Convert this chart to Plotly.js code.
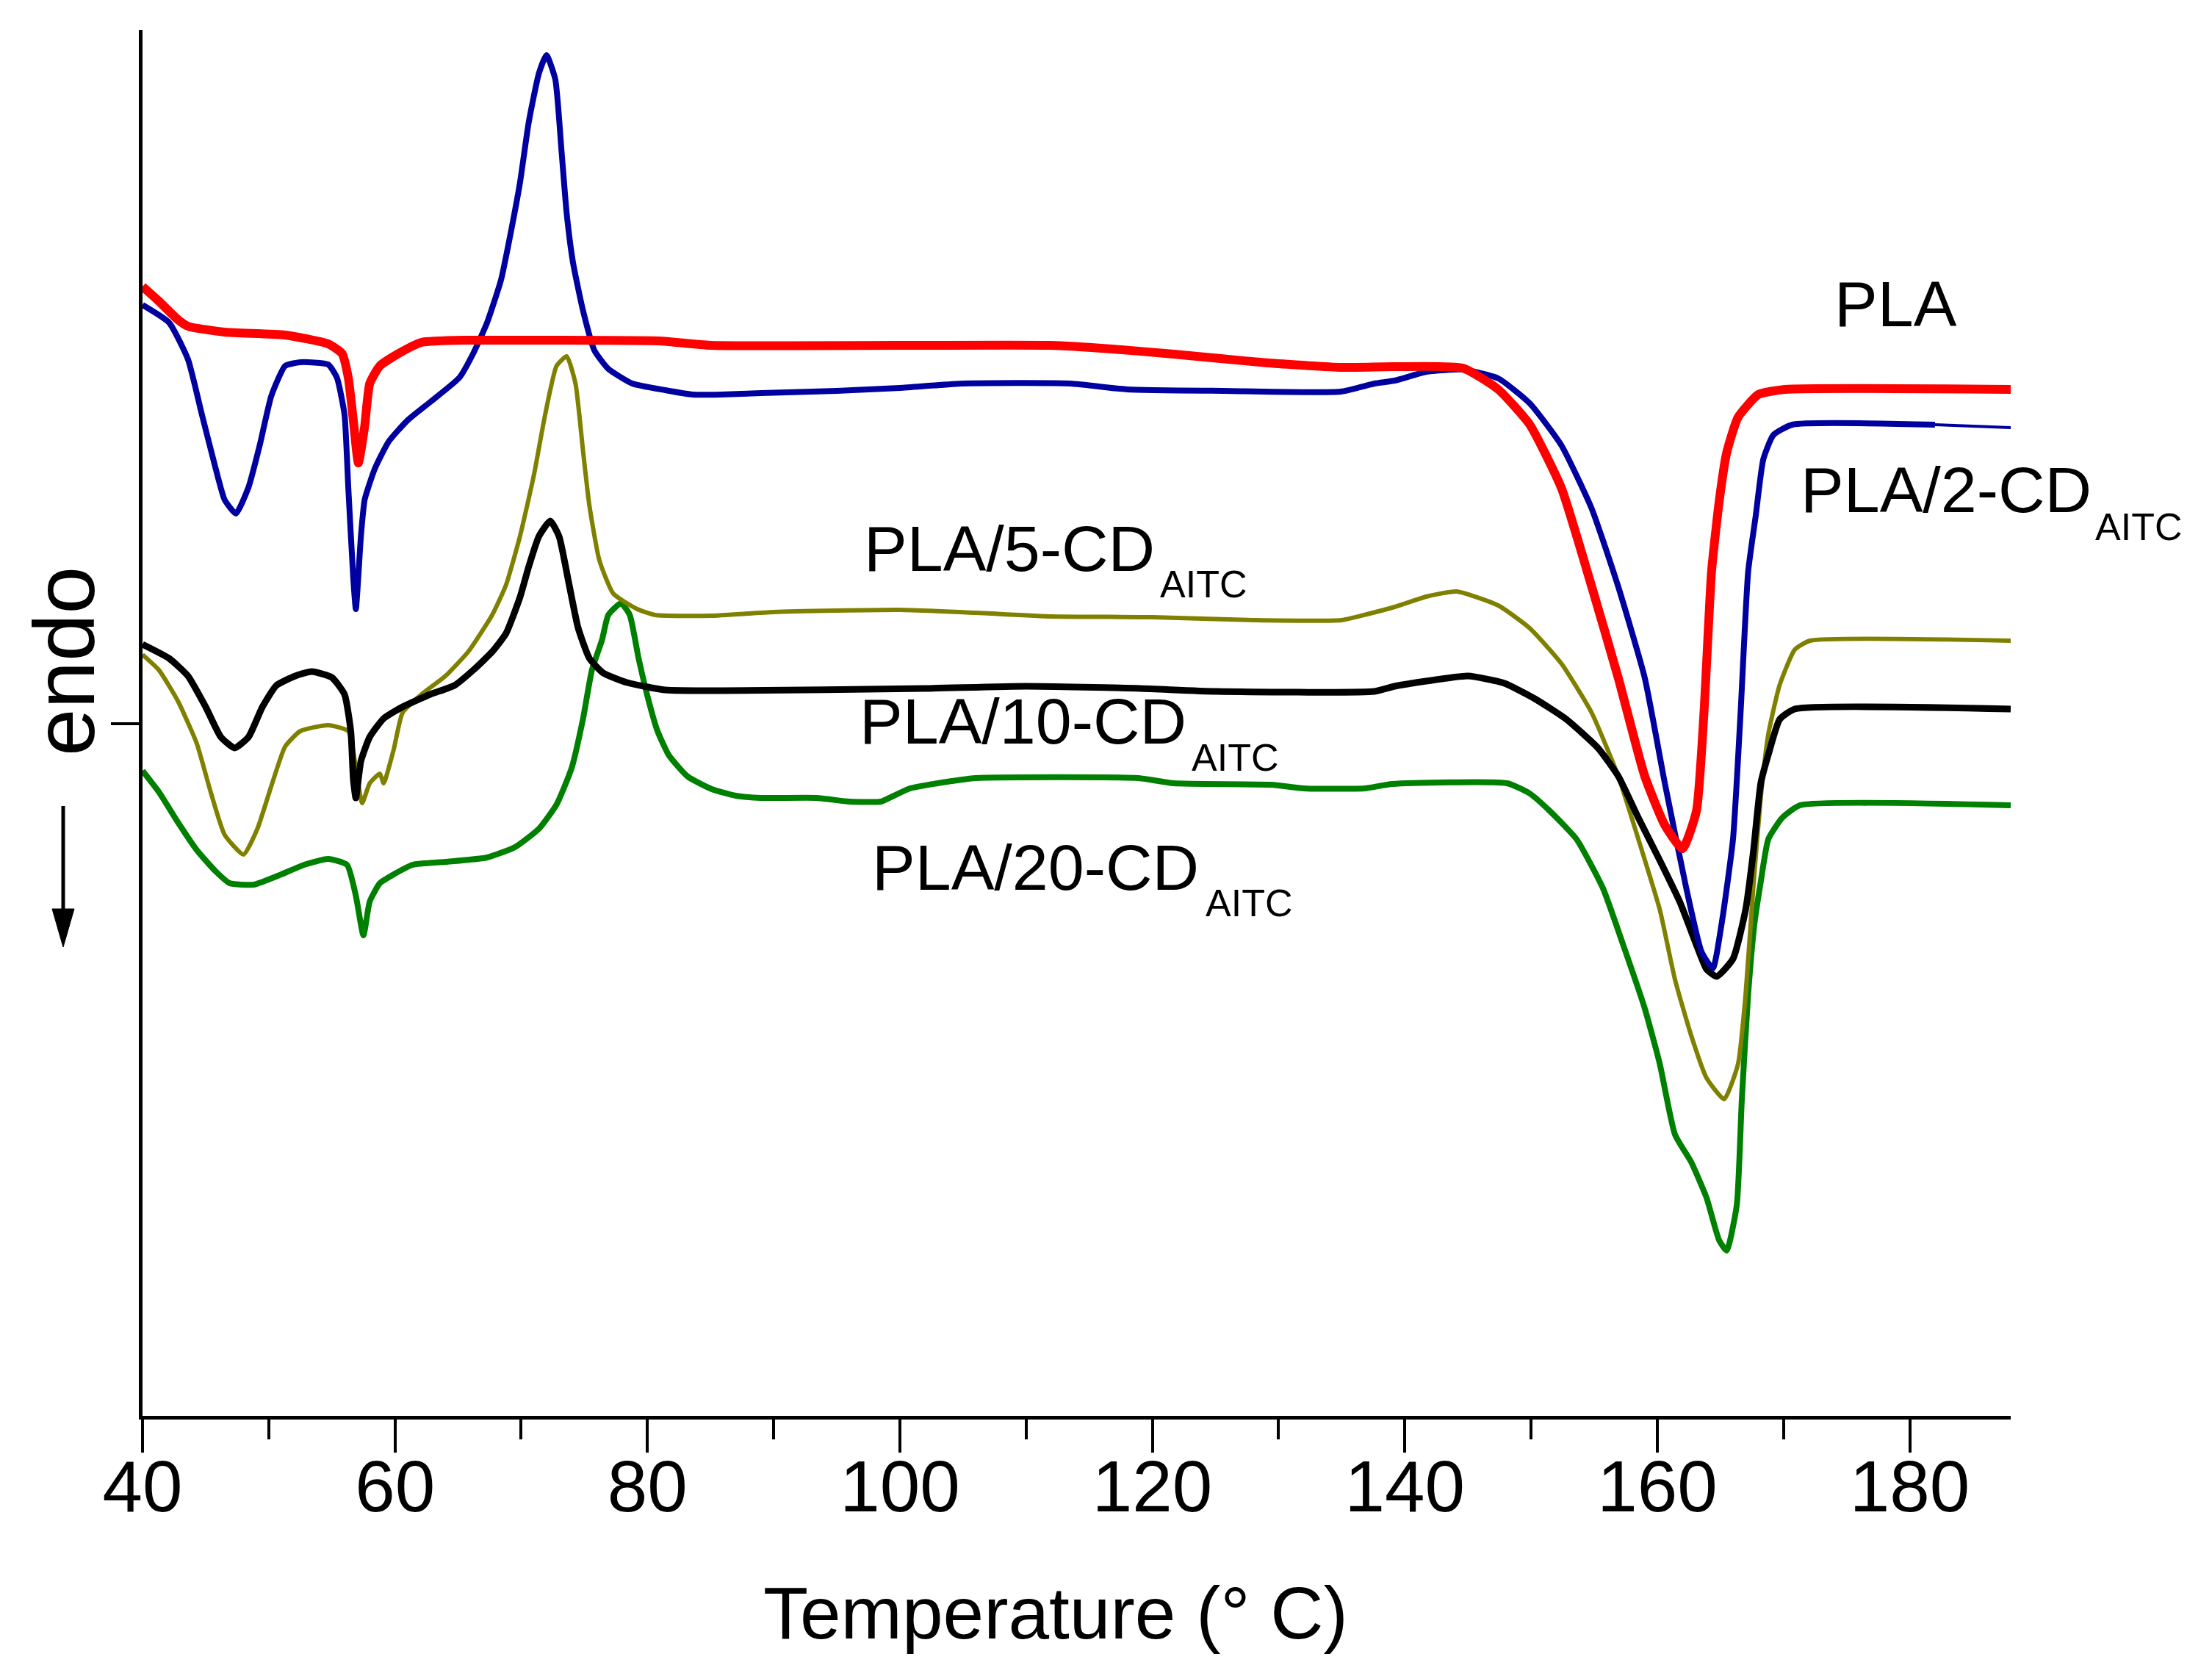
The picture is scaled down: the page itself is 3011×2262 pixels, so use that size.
<!DOCTYPE html>
<html>
<head>
<meta charset="utf-8">
<script src="https://cdn.plot.ly/plotly-3.0.1.min.js"></script>
<style>html,body{margin:0;padding:0;background:#fff;}#chart{width:3011px;height:2262px;}</style>
</head>
<body>
<div id="chart"></div>
<script>
// Temperature (°C) and heat flow (a.u., exo up)
const tPLA = [40.0,41.3,42.8,43.6,46.5,51.3,54.7,55.8,56.3,56.7,57.1,57.6,58.0,58.8,60.3,62.1,65.8,69.5,80.9,85,111.9,116.8,121.7,125.4,129.2,135,139.2,144.6,147.4,149.9,152.4,154.8,156.9,159.0,160.6,162.0,163.1,163.7,164.3,164.9,165.5,166.4,168.0,170.1,188];
const hfPLA = [15.37,15.17,14.92,14.83,14.75,14.71,14.59,14.46,14.13,13.55,12.97,13.47,14.05,14.29,14.46,14.61,14.64,14.64,14.63,14.57,14.57,14.52,14.45,14.39,14.33,14.27,14.28,14.26,13.97,13.49,12.63,11.29,10.05,8.71,8.04,7.72,8.23,9.57,11.49,12.44,13.11,13.59,13.90,13.97,13.97];

const tCD2 = [40.0,42.1,43.6,44.7,45.8,46.5,47.4,48.4,49.3,50.2,51.3,52.5,54.7,55.4,56.0,56.3,56.7,56.9,57.3,57.6,58.4,59.5,61.0,62.8,65.1,66.2,67.3,68.4,69.1,69.9,70.6,71.4,72.0,72.7,73.2,73.6,74.1,74.9,75.8,76.9,78.8,81.4,83.6,85.8,89,95,100,105,113.5,118,125.7,134.9,137.6,139.2,141.7,144.6,147.4,149.9,152.4,154.8,156.9,159.0,160.6,162.3,163.5,164.4,165.1,166.0,166.6,167.2,167.8,168.4,169.2,170.7,182.0,188];
const hfCD2 = [15.12,14.88,14.38,13.63,12.89,12.47,12.28,12.64,13.22,13.88,14.29,14.34,14.31,14.13,13.63,12.64,11.39,10.98,11.97,12.47,12.89,13.26,13.55,13.80,14.13,14.46,14.88,15.46,16.04,16.78,17.61,18.27,18.52,18.19,17.20,16.37,15.70,15.04,14.50,14.25,14.05,13.96,13.90,13.90,13.92,13.95,13.99,14.05,14.05,13.97,13.95,13.94,14.05,14.09,14.21,14.24,14.12,13.78,13.21,12.35,11.29,10.05,8.61,7.18,6.32,6.09,6.70,7.85,9.57,11.49,12.25,13.02,13.35,13.49,13.49,13.45];

const tCD5 = [40.0,41.3,42.8,44.3,45.4,46.5,48.0,49.1,50.2,51.3,52.5,54.7,56.3,56.9,57.4,58.0,58.8,59.1,59.9,60.6,62.1,64.0,65.8,67.7,68.8,69.9,71.0,71.9,72.8,73.6,74.3,74.9,75.4,76.2,77.3,79.2,80.6,85,90,100,106,112,120,128,135,137,139.2,141.7,144.1,147.4,149.9,152.4,154.8,156.9,158.5,160.2,161.4,162.7,163.9,165.3,166.4,167.0,167.6,168.2,168.8,169.7,170.9,172.1,188];
const hfCD5 = [10.36,10.15,9.73,9.15,8.49,7.91,7.64,7.99,8.57,9.11,9.32,9.40,9.32,8.82,8.34,8.61,8.74,8.61,9.07,9.57,9.82,10.07,10.40,10.90,11.31,11.97,12.80,13.63,14.29,14.42,14.05,13.13,12.39,11.64,11.19,10.98,10.90,10.89,10.94,10.97,10.93,10.88,10.87,10.83,10.83,10.91,11.01,11.15,11.22,11.03,10.72,10.24,9.57,8.71,7.85,6.89,5.94,5.17,4.60,4.31,4.79,5.74,7.18,8.42,9.28,9.95,10.43,10.55,10.55];

const tCD10 = [40.0,42.1,43.6,45.0,46.2,47.3,48.4,49.5,50.6,52.1,53.4,55.0,56.0,56.5,56.7,56.9,57.3,58.0,59.1,60.6,62.8,64.7,66.2,67.7,68.8,69.9,70.6,71.4,72.3,73.0,73.8,74.5,75.4,76.5,78.4,81.4,86,102,110,119,125,137.6,139.2,141.7,145.0,147.9,150.3,152.8,155.3,156.9,158.5,160.2,161.8,163.1,163.9,164.7,166.0,167.0,167.6,168.2,168.8,169.7,170.9,188];
const hfCD10 = [10.50,10.31,10.07,9.65,9.24,9.09,9.24,9.65,9.94,10.07,10.13,10.05,9.82,9.32,8.66,8.41,8.91,9.24,9.49,9.65,9.82,9.94,10.15,10.40,10.65,11.14,11.56,11.97,12.18,11.97,11.31,10.73,10.31,10.11,9.98,9.88,9.87,9.90,9.93,9.90,9.86,9.86,9.93,10.00,10.07,9.97,9.76,9.48,9.09,8.71,8.14,7.56,6.99,6.41,6.08,5.98,6.22,6.89,7.66,8.61,9.00,9.48,9.62,9.62];

const tCD20 = [40.0,41.3,42.8,44.3,45.8,46.9,48.8,51.0,52.8,54.7,56.2,56.9,57.5,58.0,58.8,59.9,61.4,64.0,67.3,69.5,71.4,72.8,74.0,74.9,75.6,76.4,76.9,77.9,78.6,79.3,80.1,80.8,81.7,83.2,85.1,87,89,93.4,96,98.5,99.4,100.8,103,106,118.9,121.7,129.4,132,136.8,139,148.1,149.9,151.5,153.6,155.7,157.3,159.0,160.2,161.4,162.7,163.9,164.9,165.5,166.3,166.7,167.2,167.7,168.2,168.8,169.9,171.3,188];
const hfCD20 = [8.78,8.49,8.08,7.70,7.41,7.25,7.23,7.37,7.50,7.58,7.50,7.08,6.54,7.00,7.25,7.37,7.50,7.54,7.60,7.74,7.99,8.32,8.82,9.49,10.15,10.56,10.90,11.06,10.90,10.31,9.73,9.32,8.99,8.70,8.53,8.44,8.41,8.41,8.36,8.36,8.43,8.54,8.61,8.68,8.68,8.61,8.59,8.54,8.54,8.60,8.61,8.47,8.23,7.85,7.18,6.41,5.55,4.79,3.83,3.45,2.97,2.39,2.25,2.87,4.31,5.74,6.70,7.27,7.85,8.14,8.31,8.31];

const seriesNames = ['PLA','PLA/2-CD','PLA/5-CD','PLA/10-CD','PLA/20-CD'];
const xTicks = [40,60,80,100,120,140,160,180];
const xMinorTicks = [50,70,90,110,130,150,170];
const yTick = [9.42];

const FONT = 'Arial, "Liberation Sans", Helvetica, sans-serif';

function tr(x, y, color, width, name) {
  return {x: x, y: y, type: 'scatter', mode: 'lines', name: name,
    line: {color: color, width: width, shape: 'spline', smoothing: 0.5},
    hoverinfo: 'skip'};
}

// the PLA/2-CD trace is drawn thinner after about 182 °C in the reference
const cut = tCD2.indexOf(182.0);

const data = [
  tr(tCD20, hfCD20, '#008000', 8, seriesNames[4]),
  tr(tCD5, hfCD5, '#808000', 6, seriesNames[2]),
  tr(tCD10, hfCD10, '#000000', 9, seriesNames[3]),
  tr(tCD2.slice(0, cut + 1), hfCD2.slice(0, cut + 1), '#0000A0', 8, seriesNames[1]),
  tr(tCD2.slice(cut), hfCD2.slice(cut), '#0000A0', 4, seriesNames[1]),
  tr(tPLA, hfPLA, '#FF0000', 12, seriesNames[0])
];

// plot area pixels: left 194, right 2737, top 41, bottom 1927
const L = 194, R = 2737, T = 41, B = 1927;
const px = v => (v - L) / (R - L);
const py = v => (B - v) / (B - T);

function lab(text, left, baseline, size) {
  return {text: text, xref: 'paper', yref: 'paper', x: px(left), y: py(baseline - 0.3465 * size),
    xanchor: 'left', yanchor: 'middle', showarrow: false,
    font: {family: FONT, size: size, color: '#000'}};
}

const annotations = [
  lab('PLA', 2495, 444, 88),
  lab('PLA/2-CD', 2449, 697, 88), lab('AITC', 2850, 735, 52),
  lab('PLA/5-CD', 1174, 777, 88), lab('AITC', 1577, 813, 52),
  lab('PLA/10-CD', 1168, 1012, 88), lab('AITC', 1620, 1049, 52),
  lab('PLA/20-CD', 1185, 1211, 88), lab('AITC', 1639, 1247, 52),
  {text: 'Temperature (° C)', xref: 'paper', yref: 'paper', x: px(1437), y: py(2195),
    xanchor: 'center', yanchor: 'middle', showarrow: false,
    font: {family: FONT, size: 100, color: '#000'}},
  {text: 'endo', xref: 'paper', yref: 'paper', x: px(88), y: py(900), textangle: -90,
    xanchor: 'center', yanchor: 'middle', showarrow: false,
    font: {family: FONT, size: 116, color: '#000'}}
];

const shapes = [
  {type: 'line', xref: 'paper', yref: 'paper', x0: px(86), x1: px(86), y0: py(1097), y1: py(1245),
    line: {color: '#000', width: 5}},
  {type: 'path', xref: 'paper', yref: 'paper',
    path: 'M ' + px(71) + ' ' + py(1237) + ' L ' + px(101) + ' ' + py(1237) + ' L ' + px(86) + ' ' + py(1289) + ' Z',
    fillcolor: '#000', line: {color: '#000', width: 1}}
];

const layout = {
  width: 3011, height: 2262,
  margin: {l: L, r: 3011 - R, t: T, b: 2262 - B, pad: 0},
  paper_bgcolor: '#fff', plot_bgcolor: '#fff',
  showlegend: false,
  font: {family: FONT, color: '#000'},
  xaxis: {range: [40, 188], showgrid: false, zeroline: false, showline: true, linecolor: '#000', linewidth: 5,
    ticks: 'outside', tickvals: xTicks, ticktext: xTicks.map(String), ticklen: 45, tickwidth: 4, tickcolor: '#000',
    ticklabelstandoff: -38,
    tickfont: {family: FONT, size: 98, color: '#000'},
    minor: {tickvals: xMinorTicks, ticks: 'outside', ticklen: 27, tickwidth: 4, tickcolor: '#000', showgrid: false}},
  yaxis: {range: [0, 18.86], showgrid: false, zeroline: false, showline: true, linecolor: '#000', linewidth: 5,
    ticks: 'outside', tickvals: yTick, ticklen: 38, tickwidth: 4, tickcolor: '#000', showticklabels: false},
  annotations: annotations,
  shapes: shapes
};

Plotly.newPlot('chart', data, layout, {staticPlot: true, displayModeBar: false});
</script>
</body>
</html>
